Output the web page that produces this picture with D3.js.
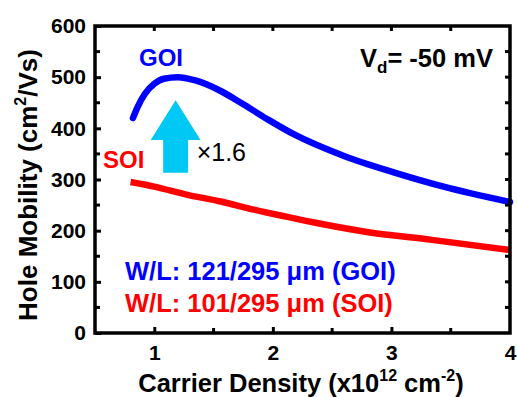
<!DOCTYPE html>
<html><head><meta charset="utf-8">
<script src="https://cdn.jsdelivr.net/npm/d3@7"></script>
<style>
html,body{margin:0;padding:0;background:#fff;}
svg text{font-family:"Liberation Sans",Arial,sans-serif;}
</style></head>
<body>
<svg id="chart" width="517" height="397"></svg>
<script>
// ---- data ----
const goiDensity  = [0.82, 0.86, 0.92, 1.00, 1.08, 1.20, 1.34, 1.56, 1.73, 1.96, 2.18, 2.60, 3.02, 3.44, 4.00];
const goiMobility = [420, 442, 467, 487, 497, 500, 494, 473, 450, 417, 388, 346, 314, 286, 256];
const soiDensity  = [0.80, 1.00, 1.28, 1.56, 1.84, 2.12, 2.37, 2.78, 3.34, 4.00];
const soiMobility = [295, 286, 270, 257, 241, 227, 215, 198, 182, 162];
const xTicks = [1, 2, 3, 4];
const xMinorTicks = [1.5, 2.5, 3.5];
const yTicks = [0, 100, 200, 300, 400, 500, 600];
const yMinorTicks = [50, 150, 250, 350, 450, 550];
const ratioLabel = "×1.6";
// arrow annotation (data units): x, tip, head base, tail
const arrowX = 1.18, arrowTip = 455, arrowHeadBase = 377, arrowTail = 313;

const svg = d3.select("#chart");
const L = 95, R = 510, T = 26, B = 333;
const x = d3.scaleLinear().domain([0.5, 4]).range([L, R]);
const y = d3.scaleLinear().domain([0, 600]).range([B, T]);

const BLUE = "#0000ff", RED = "#ff0000", CYAN = "#00c8f4";

// curves
const line = d3.line().x(d => x(d[0])).y(d => y(d[1])).curve(d3.curveMonotoneX);
svg.append("path").datum(soiDensity.map((v,i)=>[v, soiMobility[i]]))
  .attr("d", line).attr("fill","none").attr("stroke",RED).attr("stroke-width",6.5);
svg.append("path").datum(goiDensity.map((v,i)=>[v, goiMobility[i]]))
  .attr("d", line)
  .attr("fill","none").attr("stroke",BLUE).attr("stroke-width",6.5).attr("stroke-linecap","round");

// arrow
const hw = x(arrowX) - x(arrowX - 0.21), sw = x(arrowX) - x(arrowX - 0.105);
const ax = x(arrowX);
svg.append("path").attr("fill", CYAN)
  .attr("d", `M${ax},${y(arrowTip)} L${ax+hw},${y(arrowHeadBase)} L${ax+sw},${y(arrowHeadBase)} L${ax+sw},${y(arrowTail)} L${ax-sw},${y(arrowTail)} L${ax-sw},${y(arrowHeadBase)} L${ax-hw},${y(arrowHeadBase)} Z`);
svg.append("text").attr("x", x(arrowX)+21).attr("y", y(arrowHeadBase)+21)
  .attr("font-size",25).attr("fill","#000").text(ratioLabel);

// frame axes (ticks inward)
const bottom = d3.axisBottom(x).tickValues(xTicks).tickSize(-6).tickPadding(12).tickFormat(d3.format("d"));
const gb = svg.append("g").attr("transform",`translate(0,${B})`).call(bottom);
const left = d3.axisLeft(y).tickValues(yTicks).tickSize(-6).tickPadding(9);
const gl = svg.append("g").attr("transform",`translate(${L},0)`).call(left);
[gb, gl].forEach(g => {
  g.selectAll("text").attr("font-size",21).attr("font-weight","bold").attr("fill","#000")
   .style("font-family","'Liberation Sans',Arial,sans-serif");
  g.select(".domain").remove();
  g.selectAll(".tick line").attr("stroke","#000").attr("stroke-width",3);
});
gb.selectAll(".tick").filter(d => d === 4).select("line").remove();
// minor ticks and top/right ticks
const tickG = svg.append("g").attr("stroke","#000").attr("stroke-width",3);
xMinorTicks.forEach(v => tickG.append("line").attr("x1",x(v)).attr("x2",x(v)).attr("y1",B).attr("y2",B-5));
xTicks.concat(xMinorTicks).filter(v=>v<4).forEach(v => tickG.append("line").attr("x1",x(v)).attr("x2",x(v)).attr("y1",T).attr("y2",T+5));
yMinorTicks.forEach(v => tickG.append("line").attr("x1",L).attr("x2",L+5).attr("y1",y(v)).attr("y2",y(v)));
yTicks.concat(yMinorTicks).filter(v=>v>0 && v<600).forEach(v => tickG.append("line").attr("x1",R).attr("x2",R-5).attr("y1",y(v)).attr("y2",y(v)));
svg.append("rect").attr("x",L).attr("y",T).attr("width",R-L).attr("height",B-T)
  .attr("fill","none").attr("stroke","#000").attr("stroke-width",3.5);

// axis titles
const xt = svg.append("text").attr("x",301).attr("y",392).attr("text-anchor","middle")
  .attr("font-size",25.5).attr("font-weight","bold").attr("fill","#000");
xt.append("tspan").text("Carrier Density (x10");
xt.append("tspan").attr("font-size",16).attr("dy",-11).text("12");
xt.append("tspan").attr("dy",11).text(" cm");
xt.append("tspan").attr("font-size",16).attr("dy",-11).text("-2");
xt.append("tspan").attr("dy",11).text(")");

const yt = svg.append("text").attr("transform","translate(37,185) rotate(-90)").attr("text-anchor","middle")
  .attr("font-size",26).attr("font-weight","bold").attr("fill","#000");
yt.append("tspan").text("Hole Mobility (cm");
yt.append("tspan").attr("font-size",16).attr("dy",-11).text("2");
yt.append("tspan").attr("dy",11).text("/Vs)");

// labels
svg.append("text").attr("x",139).attr("y",66).attr("font-size",24).attr("font-weight","bold").attr("fill",BLUE).text("GOI");
svg.append("text").attr("x",103).attr("y",168).attr("font-size",24).attr("font-weight","bold").attr("fill",RED).text("SOI");
const vd = svg.append("text").attr("x",493).attr("y",67).attr("text-anchor","end")
  .attr("font-size",25.5).attr("font-weight","bold").attr("fill","#000");
vd.append("tspan").text("V");
vd.append("tspan").attr("font-size",17).attr("dy",6).text("d");
vd.append("tspan").attr("dy",-6).text("= -50 mV");
svg.append("text").attr("x",125).attr("y",280).attr("font-size",25.5).attr("font-weight","bold").attr("fill",BLUE).text("W/L: 121/295 μm (GOI)");
svg.append("text").attr("x",125).attr("y",312).attr("font-size",25.5).attr("font-weight","bold").attr("fill",RED).text("W/L: 101/295 μm (SOI)");
</script>
</body></html>
